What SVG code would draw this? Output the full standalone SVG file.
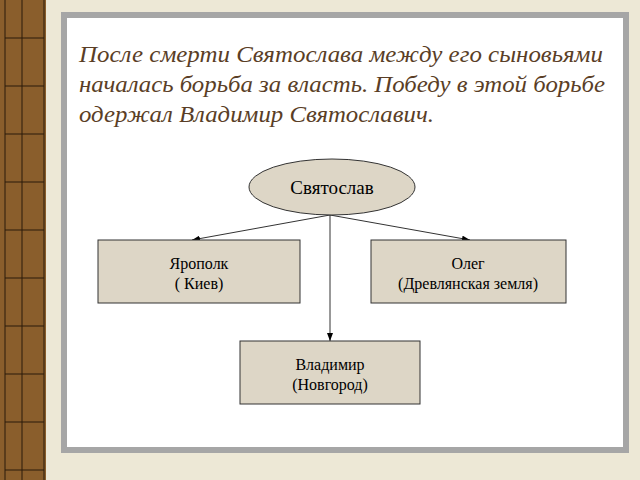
<svg xmlns="http://www.w3.org/2000/svg" width="640" height="480" viewBox="0 0 640 480">
<defs>
<style>
.n{fill:#ddd6c6;stroke:#333;stroke-width:1}
.t{font-family:"Liberation Serif","DejaVu Serif",serif;font-size:16px;fill:#000;text-anchor:middle}
.h{font-family:"Liberation Serif","DejaVu Serif",serif;font-size:23.5px;font-style:italic;fill:#5a3e26}
.c{stroke:#333;stroke-width:1;fill:none;marker-end:url(#a)}
</style>
<marker id="a" markerWidth="8" markerHeight="6" refX="8" refY="3" orient="auto" markerUnits="userSpaceOnUse"><path d="M0,0L8,3L0,6z" fill="#000"/></marker>
</defs>
<rect width="640" height="480" fill="#ede8d6"/>
<rect x="0" y="0" width="46" height="480" fill="#8a5e2c"/>
<g stroke="#2a1a0a" stroke-width="1">
<line x1="5" y1="0" x2="5" y2="480"/><line x1="22" y1="0" x2="22" y2="480"/><line x1="44" y1="0" x2="44" y2="480"/>
<line x1="5" y1="38" x2="44" y2="38"/><line x1="5" y1="86" x2="44" y2="86"/><line x1="5" y1="134" x2="44" y2="134"/><line x1="5" y1="182" x2="44" y2="182"/><line x1="5" y1="230" x2="44" y2="230"/><line x1="5" y1="278" x2="44" y2="278"/><line x1="5" y1="326" x2="44" y2="326"/><line x1="5" y1="374" x2="44" y2="374"/><line x1="5" y1="422" x2="44" y2="422"/><line x1="5" y1="470" x2="44" y2="470"/>
</g>
<rect x="61" y="12" width="568" height="441" fill="#a6a6a6"/>
<rect x="67" y="18" width="556" height="429" fill="#fff"/>
<text class="h" x="79" y="62" textLength="524" lengthAdjust="spacingAndGlyphs">После смерти Святослава между его сыновьями</text>
<text class="h" x="79" y="92" textLength="526" lengthAdjust="spacingAndGlyphs">началась борьба за власть. Победу в этой борьбе</text>
<text class="h" x="79" y="122" textLength="355" lengthAdjust="spacingAndGlyphs">одержал Владимир Святославич.</text>
<g id="connectors">
<line class="c" x1="330" y1="215" x2="192" y2="240"/>
<line class="c" x1="330" y1="215" x2="470" y2="240"/>
<line class="c" x1="330" y1="215" x2="330" y2="341"/>
</g>
<g id="svyatoslav"><ellipse class="n" cx="332" cy="187" rx="83" ry="28"/><text class="t" x="332" y="194" style="font-size:19px">Святослав</text></g>
<g id="yaropolk"><rect class="n" x="98" y="240" width="202" height="63"/><text class="t" x="199" y="269">Ярополк</text><text class="t" x="199" y="289">( Киев)</text></g>
<g id="oleg"><rect class="n" x="371" y="240" width="195" height="63"/><text class="t" x="468" y="269">Олег</text><text class="t" x="468" y="289">(Древлянская земля)</text></g>
<g id="vladimir"><rect class="n" x="240" y="341" width="180" height="63"/><text class="t" x="330" y="370">Владимир</text><text class="t" x="330" y="390">(Новгород)</text></g>
</svg>
